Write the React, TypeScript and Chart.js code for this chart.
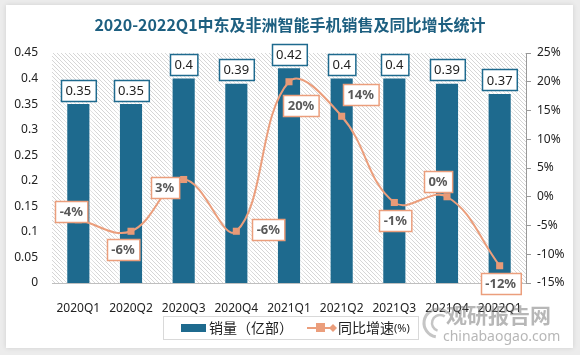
import React, { useEffect, useRef } from "react";
import { Chart, registerables } from "chart.js";

Chart.register(...registerables);

const categories = ["2020Q1", "2020Q2", "2020Q3", "2020Q4", "2021Q1", "2021Q2", "2021Q3", "2021Q4", "2022Q1"];
const sales = [0.35, 0.35, 0.4, 0.39, 0.42, 0.4, 0.4, 0.39, 0.37];
const growth = [-4, -6, 3, -6, 20, 14, -1, 0, -12];
const salesLabel = "销量（亿部）";
const growthLabel = "同比增速(%)";
const titleText = "2020-2022Q1中东及非洲智能手机销售及同比增长统计";

// label placement offsets (dx, dy) relative to each line point
const growthLabelOffsets: [number, number][] = [
  [-7, -8], [-8, 18], [-19, 8], [32, -2], [12, 24], [19, -22], [1, 18], [-9, -15], [1, 18],
];

const BAR = "#1e6a8e";
const LINE = "#eb9e7c";

function roundRectBox(ctx: CanvasRenderingContext2D, cx: number, cy: number, text: string, border: string, color: string, font: string) {
  ctx.save();
  ctx.font = font;
  const w = ctx.measureText(text).width + 9;
  const h = 21;
  const x = Math.round(cx - w / 2) + 0.5;
  const y = Math.round(cy - h / 2) + 0.5;
  ctx.fillStyle = "#ffffff";
  ctx.fillRect(x, y, w, h);
  ctx.strokeStyle = border;
  ctx.lineWidth = 1.5;
  ctx.strokeRect(x, y, w, h);
  ctx.fillStyle = color;
  ctx.textAlign = "center";
  ctx.textBaseline = "middle";
  ctx.fillText(text, cx, cy + 1);
  ctx.restore();
}

const decorPlugin = {
  id: "decor",
  beforeDraw(chart: any) {
    const { ctx, chartArea } = chart;
    ctx.save();
    ctx.fillStyle = "#ececec";
    ctx.fillRect(0, 0, chart.width, chart.height);
    ctx.shadowColor = "rgba(0,0,0,0.12)";
    ctx.shadowBlur = 5;
    ctx.fillStyle = "#ffffff";
    ctx.fillRect(6, 5, 567, 343);
    ctx.restore();

    // hatch pattern in plot area
    const tile = document.createElement("canvas");
    tile.width = 4;
    tile.height = 4;
    const t = tile.getContext("2d")!;
    t.fillStyle = "#ffffff";
    t.fillRect(0, 0, 4, 4);
    t.fillStyle = "#d6d6d6";
    for (let i = 0; i < 4; i++) t.fillRect(i, i, 1, 1);
    const pat = ctx.createPattern(tile, "repeat");
    ctx.save();
    ctx.fillStyle = pat;
    ctx.fillRect(chartArea.left, chartArea.top, chartArea.right - chartArea.left, chartArea.bottom - chartArea.top);
    ctx.restore();

    // title
    ctx.save();
    ctx.font = "bold 16px 'Noto Sans CJK SC'";
    ctx.fillStyle = "#1d5f80";
    ctx.textAlign = "center";
    ctx.textBaseline = "middle";
    ctx.fillText(titleText, 290, 25);
    ctx.restore();
  },
  beforeDatasetDraw(chart: any, args: any) {
    const ctx = chart.ctx;
    ctx.save();
    if (args.index === 0) {
      ctx.shadowColor = "rgba(255,255,255,1)";
      ctx.shadowBlur = 8;
    }
  },
  afterDatasetDraw(chart: any) {
    chart.ctx.restore();
  },
  afterDatasetsDraw(chart: any) {
    const { ctx } = chart;
    const barMeta = chart.getDatasetMeta(0);
    barMeta.data.forEach((el: any, i: number) => {
      roundRectBox(ctx, el.x, el.y - 14, String(sales[i]), BAR, "#222222", "13px 'Noto Sans'");
    });
    const lineMeta = chart.getDatasetMeta(1);
    lineMeta.data.forEach((el: any, i: number) => {
      const [dx, dy] = growthLabelOffsets[i];
      roundRectBox(ctx, el.x + dx, el.y + dy, growth[i] + "%", LINE, "#595959", "bold 13px 'Noto Sans'");
    });

    // legend
    ctx.save();
    ctx.strokeStyle = "#d9d9d9";
    ctx.lineWidth = 1;
    ctx.strokeRect(163.5, 316.5, 255, 23);
    ctx.fillStyle = BAR;
    ctx.fillRect(181, 324, 25, 8);
    ctx.font = "14px 'Noto Sans CJK SC'";
    ctx.fillStyle = "#222222";
    ctx.textBaseline = "middle";
    ctx.fillText(salesLabel, 209, 328);
    ctx.strokeStyle = LINE;
    ctx.lineWidth = 2;
    ctx.beginPath();
    ctx.moveTo(307, 328);
    ctx.lineTo(333, 328);
    ctx.stroke();
    ctx.fillStyle = LINE;
    ctx.fillRect(316, 323, 9, 9);
    ctx.beginPath();
    ctx.moveTo(333, 324);
    ctx.lineTo(337, 328);
    ctx.lineTo(333, 332);
    ctx.lineTo(329, 328);
    ctx.closePath();
    ctx.fill();
    ctx.fillStyle = "#222222";
    ctx.font = "14px 'Noto Sans CJK SC'";
    ctx.fillText("同比增速", 338, 328);
    ctx.font = "11px 'Noto Sans'";
    ctx.fillText("(%)", 394, 329);
    ctx.restore();

    // watermark
    ctx.save();
    ctx.globalAlpha = 0.5;
    ctx.strokeStyle = "#8c8c8c";
    ctx.lineWidth = 3;
    ctx.beginPath();
    ctx.arc(438, 323, 14, Math.PI * 0.55, Math.PI * 1.75);
    ctx.stroke();
    ctx.lineWidth = 2.5;
    ctx.beginPath();
    ctx.arc(440, 323, 8, Math.PI * 0.6, Math.PI * 1.7);
    ctx.stroke();
    ctx.fillStyle = "#707070";
    ctx.font = "bold 21px 'Noto Sans CJK SC'";
    ctx.textBaseline = "middle";
    ctx.fillText("观研报告网", 446, 315);
    ctx.font = "14px 'Noto Sans'";
    ctx.fillText("chinabaogao.com", 443, 337);
    ctx.restore();
  },
};

export default function App() {
  const ref = useRef<HTMLCanvasElement>(null);
  useEffect(() => {
    if (!ref.current) return;
    const tickFont = { family: "'Noto Sans'", size: 12 };
    const chart = new Chart(ref.current, {
      data: {
        labels: categories,
        datasets: [
          {
            type: "bar",
            label: salesLabel,
            data: sales,
            backgroundColor: BAR,
            borderColor: "#ffffff",
            borderWidth: 0,
            barPercentage: 0.42,
            categoryPercentage: 1,
            yAxisID: "y",
            order: 2,
          },
          {
            type: "line",
            label: growthLabel,
            data: growth,
            borderColor: LINE,
            backgroundColor: LINE,
            borderWidth: 2,
            tension: 0.4,
            pointStyle: "rect",
            pointRadius: 5,
            pointBackgroundColor: "#e89a77",
            pointBorderWidth: 0,
            yAxisID: "y1",
            order: 1,
          },
        ],
      } as any,
      options: {
        animation: false,
        responsive: false,
        layout: { padding: { top: 53, left: 0, right: 0, bottom: 0 } },
        plugins: { legend: { display: false }, tooltip: { enabled: false }, title: { display: false } },
        scales: {
          x: {
            grid: { display: false },
            border: { display: true, color: "#bfbfbf", width: 1 },
            ticks: { font: tickFont, color: "#222", padding: 10, maxRotation: 0 },
            afterFit: (s: any) => { s.height = 72; },
          },
          y: {
            position: "left",
            min: 0,
            max: 0.45,
            grid: { display: false, drawTicks: false },
            border: { display: false },
            ticks: { stepSize: 0.05, font: tickFont, color: "#222", padding: 14, callback: (v: any) => String(Math.round(Number(v) * 100) / 100) },
            afterFit: (s: any) => { s.width = 52; },
          },
          y1: {
            position: "right",
            min: -15,
            max: 25,
            grid: { display: true, drawOnChartArea: false, drawTicks: true, tickLength: 5, color: "#999999" },
            border: { display: true, color: "#999999" },
            ticks: { stepSize: 5, font: tickFont, color: "#222", padding: 6, callback: (v: any) => v + "%" },
            afterFit: (s: any) => { s.width = 54; },
          },
        },
      } as any,
      plugins: [decorPlugin],
    });
    return () => chart.destroy();
  }, []);
  return (
    <div style={{ position: "absolute", left: 0, top: 0, width: 580, height: 355 }}>
      <canvas ref={ref} width={580} height={355} style={{ width: 580, height: 355, display: "block" }} />
    </div>
  );
}
